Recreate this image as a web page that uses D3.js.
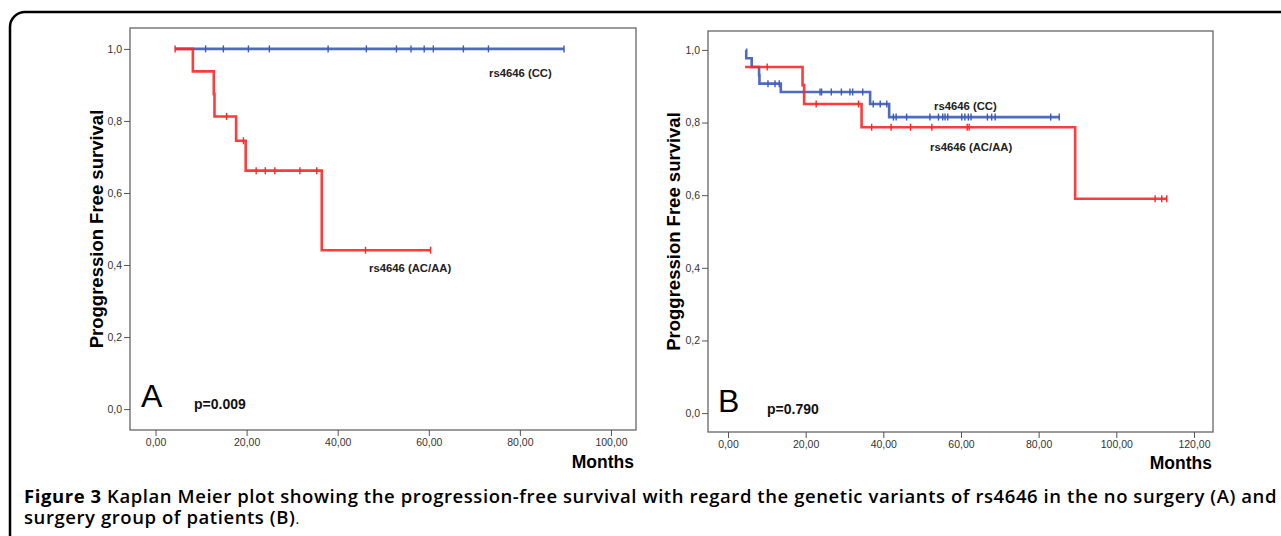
<!DOCTYPE html>
<html>
<head>
<meta charset="utf-8">
<script src="https://cdn.jsdelivr.net/npm/d3@7"></script>
<style>
	body { margin: 0; background: #fff; }
	svg { display: block; }
	.tick text { font-family: "Liberation Sans", Arial, sans-serif; font-size: 10.5px; fill: #333; }
	.tick line { stroke: #555; }
</style>
</head>
<body>
<svg id="figure" width="1281" height="536"></svg>
<script>
// ---- values ----
const survivalTicks = [0, 0.2, 0.4, 0.6, 0.8, 1.0];
const survivalTickLabels = ["0,0", "0,2", "0,4", "0,6", "0,8", "1,0"];
const monthTicksA = [0, 20, 40, 60, 80, 100];
const monthTickLabelsA = ["0,00", "20,00", "40,00", "60,00", "80,00", "100,00"];
const monthTicksB = [0, 20, 40, 60, 80, 100, 120];
const monthTickLabelsB = ["0,00", "20,00", "40,00", "60,00", "80,00", "100,00", "120,00"];

const seriesNames = ["rs4646 (CC)", "rs4646 (AC/AA)"];
const pValues = ["p=0.009", "p=0.790"];
const panelLetters = ["A", "B"];

// panel A, CC: no events
const aCcStepMonths = [4.3];
const aCcStepSurv = [1.0];
const aCcEnd = 89.7;
const aCcCensored = [11.0, 14.9, 20.4, 25.0, 37.9, 46.3, 52.9, 56.1, 59.0, 61.0, 67.6, 73.1, 89.7];

// panel A, AC/AA
const aAcStepMonths = [4.3, 8.2, 12.8, 12.95, 17.7, 19.8, 36.5];
const aAcStepSurv = [1.0, 0.9375, 0.875, 0.8125, 0.745, 0.662, 0.441];
const aAcEnd = 60.4;
const aAcCensored = [4.3, 15.6, 19.3, 22.1, 24.1, 26.2, 31.7, 35.4, 46.1, 60.4];

// panel B, CC
const bCcStepMonths = [4.6, 4.7, 6.1, 8.0, 8.1, 13.6, 36.6, 41.5];
const bCcStepSurv = [1.0, 0.977, 0.953, 0.930, 0.907, 0.884, 0.851, 0.815];
const bCcEnd = 85.3;
const bCcCensored = [10.3, 12.1, 13.2, 23.7, 24.1, 26.6, 29.2, 31.4, 32.1, 34.7, 37.4, 39.2, 40.9,
	42.6, 43.3, 46.0, 52.0, 54.2, 55.3, 55.9, 56.6, 60.2, 61.0, 61.9, 62.6, 66.8, 67.9, 68.8, 83.1, 85.3];

// panel B, AC/AA
const bAcStepMonths = [4.4, 19.2, 19.6, 34.4, 89.4];
const bAcStepSurv = [0.953, 0.903, 0.851, 0.787, 0.590];
const bAcEnd = 113.0;
const bAcCensored = [10.1, 22.7, 33.6, 37.0, 42.0, 47.0, 52.5, 61.6, 62.1, 110.0, 111.7, 113.0];

const captionBold = "Figure 3";
const captionLine1 = " Kaplan Meier plot showing the progression-free survival with regard the genetic variants of rs4646 in the no surgery (A) and";
const captionLine2 = "surgery group of patients (B)";

// ---- layout ----
const colors = { cc: "#3b5bb8", ac: "#ff2626" };
const fontAxis = '"Liberation Sans", Arial, sans-serif';

const panels = [
	{
		frame: [130, 28, 636, 430], xDomain: [-5.6, 105.5], yDomain: [-0.058, 1.058],
		xTicks: monthTicksA, xLabels: monthTickLabelsA,
		curves: [
			{ key: "cc", months: aCcStepMonths, surv: aCcStepSurv, end: aCcEnd, censored: aCcCensored },
			{ key: "ac", months: aAcStepMonths, surv: aAcStepSurv, end: aAcEnd, censored: aAcCensored }
		],
		labelPos: [[489, 76.5], [369, 271.5]],
		letterPos: [141, 407], pPos: [194, 409],
		yTitleX: 103, monthsPos: [634, 468]
	},
	{
		frame: [708, 31, 1213, 432], xDomain: [-5.15, 124.9], yDomain: [-0.052, 1.052],
		xTicks: monthTicksB, xLabels: monthTickLabelsB,
		curves: [
			{ key: "cc", months: bCcStepMonths, surv: bCcStepSurv, end: bCcEnd, censored: bCcCensored },
			{ key: "ac", months: bAcStepMonths, surv: bAcStepSurv, end: bAcEnd, censored: bAcCensored }
		],
		labelPos: [[934, 109.5], [930, 151]],
		letterPos: [718, 412], pPos: [767, 414],
		yTitleX: 680, monthsPos: [1212, 469]
	}
];

const svg = d3.select("#figure");

// outer rounded box, runs off the right and bottom edges
svg.append("rect")
	.attr("x", 10).attr("y", 12)
	.attr("width", 1320).attr("height", 600)
	.attr("rx", 15)
	.style("fill", "none")
	.style("stroke", "#000")
	.style("stroke-width", 2.5);

function survivalAt(curve, t) {
	let s = curve.surv[0];
	curve.months.forEach((m, i) => { if (m <= t + 1e-9) s = curve.surv[i]; });
	return s;
}

panels.forEach((p, pi) => {
	const [x0, y0, x1, y1] = p.frame;
	const x = d3.scaleLinear().domain(p.xDomain).range([x0, x1]);
	const y = d3.scaleLinear().domain(p.yDomain).range([y1, y0]);
	const g = svg.append("g");

	g.append("rect")
		.attr("x", x0).attr("y", y0)
		.attr("width", x1 - x0).attr("height", y1 - y0)
		.style("fill", "#fff")
		.style("stroke", "#666")
		.style("stroke-width", 1.3);

	const yAxis = d3.axisLeft(y)
		.tickValues(survivalTicks)
		.tickFormat((d, i) => survivalTickLabels[i])
		.tickSize(6).tickPadding(2);
	g.append("g")
		.attr("transform", "translate(" + x0 + ",0)")
		.call(yAxis)
		.call(a => a.select(".domain").remove());

	const xAxis = d3.axisBottom(x)
		.tickValues(p.xTicks)
		.tickFormat((d, i) => p.xLabels[i])
		.tickSize(6).tickPadding(3);
	g.append("g")
		.attr("transform", "translate(0," + y1 + ")")
		.call(xAxis)
		.call(a => a.select(".domain").remove());

	// curves: blue first, red on top
	p.curves.forEach(c => {
		const pts = c.months.map((m, i) => [m, c.surv[i]]);
		pts.push([c.end, c.surv[c.surv.length - 1]]);
		const line = d3.line()
			.x(d => x(d[0]))
			.y(d => y(d[1]))
			.curve(d3.curveStepAfter);
		g.append("path")
			.datum(pts)
			.attr("d", line)
			.style("fill", "none")
			.style("stroke", colors[c.key])
			.style("stroke-width", 2.6)
			.style("stroke-opacity", 0.9);

		g.selectAll(".cens-" + c.key)
			.data(c.censored)
			.enter()
			.append("line")
			.attr("x1", d => x(d)).attr("x2", d => x(d))
			.attr("y1", d => y(survivalAt(c, d)) - 3.5)
			.attr("y2", d => y(survivalAt(c, d)) + 3.5)
			.style("stroke", colors[c.key])
			.style("stroke-width", 1.4);
	});

	// series labels
	seriesNames.forEach((name, i) => {
		g.append("text")
			.attr("x", p.labelPos[i][0]).attr("y", p.labelPos[i][1])
			.style("font-family", fontAxis)
			.style("font-weight", "bold")
			.style("font-size", "11.3px")
			.style("fill", "#222")
			.text(name);
	});

	g.append("text")
		.attr("x", p.letterPos[0]).attr("y", p.letterPos[1])
		.style("font-family", fontAxis)
		.style("font-size", "32px")
		.style("fill", "#000")
		.text(panelLetters[pi]);

	g.append("text")
		.attr("x", p.pPos[0]).attr("y", p.pPos[1])
		.style("font-family", fontAxis)
		.style("font-weight", "bold")
		.style("font-size", "14px")
		.style("fill", "#111")
		.text(pValues[pi]);

	g.append("text")
		.attr("transform", "translate(" + p.yTitleX + "," + ((y0 + y1) / 2) + ") rotate(-90)")
		.attr("text-anchor", "middle")
		.style("font-family", fontAxis)
		.style("font-weight", "bold")
		.style("font-size", "18.5px")
		.style("fill", "#000")
		.text("Proggression Free survival");

	g.append("text")
		.attr("x", p.monthsPos[0]).attr("y", p.monthsPos[1])
		.attr("text-anchor", "end")
		.style("font-family", fontAxis)
		.style("font-weight", "bold")
		.style("font-size", "17.5px")
		.style("fill", "#000")
		.text("Months");
});

// caption
const cap = svg.append("g").style("font-family", '"Open Sans", "Noto Sans", sans-serif').style("fill", "#000");
const l1 = cap.append("text").attr("x", 24).attr("y", 502.5).style("font-size", "18.5px");
l1.append("tspan").style("font-weight", 700).text(captionBold);
l1.append("tspan").style("font-weight", 600).text(captionLine1);
const l2 = cap.append("text").attr("x", 24).attr("y", 524).style("font-size", "18.5px");
l2.append("tspan").style("font-weight", 600).text(captionLine2);
l2.append("tspan").style("font-weight", 400).style("font-size", "14px").text(".");

// stretch line 1 to the measured width with letter spacing
const w1 = l1.node().getComputedTextLength();
const nChars = (captionBold + captionLine1).length;
const ls = Math.max(0, (1253 - w1) / nChars);
l1.style("letter-spacing", ls + "px");
l2.style("letter-spacing", ls + "px");
</script>
</body>
</html>
